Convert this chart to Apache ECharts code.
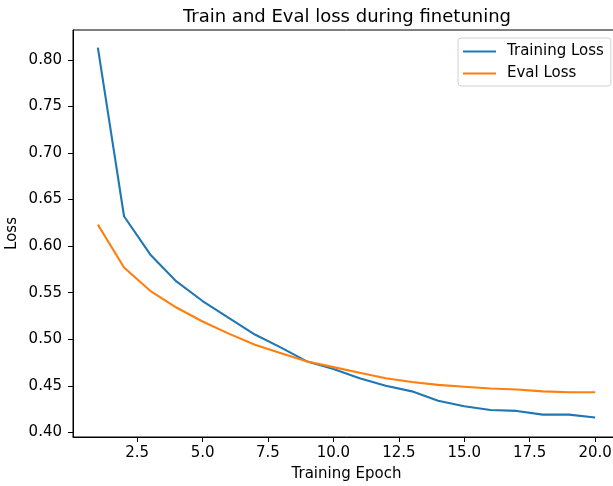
<!DOCTYPE html>
<html>
<head>
<meta charset="utf-8">
<script src="https://cdn.jsdelivr.net/npm/echarts@6/dist/echarts.min.js"></script>
<style>
  html, body { margin: 0; padding: 0; background: #fff; overflow: hidden; }
  /* the source figure was cut off at its right edge, so the canvas runs a bit past the window */
  #chart { width: 622px; height: 486px; }
</style>
</head>
<body>
<div id="chart"></div>
<script>
var epochs = [1, 2, 3, 4, 5, 6, 7, 8, 9, 10, 11, 12, 13, 14, 15, 16, 17, 18, 19, 20];
var trainLoss = [0.813, 0.632, 0.591, 0.562, 0.541, 0.523, 0.505, 0.491, 0.476, 0.468,
                 0.458, 0.450, 0.444, 0.434, 0.428, 0.424, 0.423, 0.419, 0.419, 0.416];
var evalLoss = [0.623, 0.577, 0.552, 0.534, 0.519, 0.506, 0.494, 0.485, 0.476, 0.470,
                0.464, 0.458, 0.454, 0.451, 0.449, 0.447, 0.446, 0.444, 0.443, 0.443];
var xTicks = [2.5, 5, 7.5, 10, 12.5, 15, 17.5, 20];
var yTicks = [0.40, 0.45, 0.50, 0.55, 0.60, 0.65, 0.70, 0.75, 0.80];

var font = 'DejaVu Sans';

function pairs(ys) {
  return epochs.map(function (x, i) { return [x, ys[i]]; });
}

var chart = echarts.init(document.getElementById('chart'), null, { renderer: 'canvas' });

var option = {
  animation: false,
  title: {
    text: 'Train and Eval loss during finetuning',
    left: 342,
    textAlign: 'center',
    top: 3,
    textStyle: { fontFamily: font, fontSize: 18, fontWeight: 'normal', color: '#000' }
  },
  legend: {
    left: 458,
    top: 38,
    orient: 'vertical',
    icon: 'rect',
    itemWidth: 33,
    itemHeight: 2,
    itemGap: 7,
    padding: [6, 7, 5, 5],
    borderColor: '#d0d0d0',
    borderWidth: 1,
    borderRadius: 3,
    textStyle: { fontFamily: font, fontSize: 15, color: '#000', padding: [0, 0, 0, 6] },
    data: ['Training Loss', 'Eval Loss']
  },
  grid: {
    left: 73,
    top: 30,
    width: 547,
    bottom: 49,
    show: true,
    borderColor: '#000',
    borderWidth: 1,
    outerBoundsMode: 'none',
    containLabel: false
  },
  xAxis: {
    type: 'value',
    min: 0.05,
    max: 20.95,
    name: 'Training Epoch',
    nameLocation: 'middle',
    nameGap: 30,
    nameMoveOverlap: false,
    nameTextStyle: { fontFamily: font, fontSize: 15, color: '#000' },
    axisLine: { show: true, onZero: false, lineStyle: { color: '#000', width: 1 } },
    axisTick: { show: true, length: 5, lineStyle: { color: '#000' }, customValues: xTicks },
    axisLabel: {
      fontFamily: font, fontSize: 15, color: '#000', margin: 9,
      customValues: xTicks,
      formatter: function (v) { return v.toFixed(1); }
    },
    splitLine: { show: false }
  },
  yAxis: {
    type: 'value',
    min: 0.395,
    max: 0.832,
    name: 'Loss',
    nameLocation: 'middle',
    nameGap: 53,
    nameMoveOverlap: false,
    nameTextStyle: { fontFamily: font, fontSize: 15, color: '#000' },
    axisLine: { show: true, onZero: false, lineStyle: { color: '#000', width: 1 } },
    axisTick: { show: true, length: 5, lineStyle: { color: '#000' }, customValues: yTicks },
    axisLabel: {
      fontFamily: font, fontSize: 15, color: '#000', margin: 11,
      customValues: yTicks,
      formatter: function (v) { return v.toFixed(2); }
    },
    splitLine: { show: false }
  },
  series: [
    {
      name: 'Training Loss',
      type: 'line',
      data: pairs(trainLoss),
      showSymbol: false,
      color: '#1f77b4',
      lineStyle: { width: 2.1, color: '#1f77b4' }
    },
    {
      name: 'Eval Loss',
      type: 'line',
      data: pairs(evalLoss),
      showSymbol: false,
      color: '#ff7f0e',
      lineStyle: { width: 2.1, color: '#ff7f0e' }
    }
  ]
};

chart.setOption(option);
</script>
</body>
</html>
